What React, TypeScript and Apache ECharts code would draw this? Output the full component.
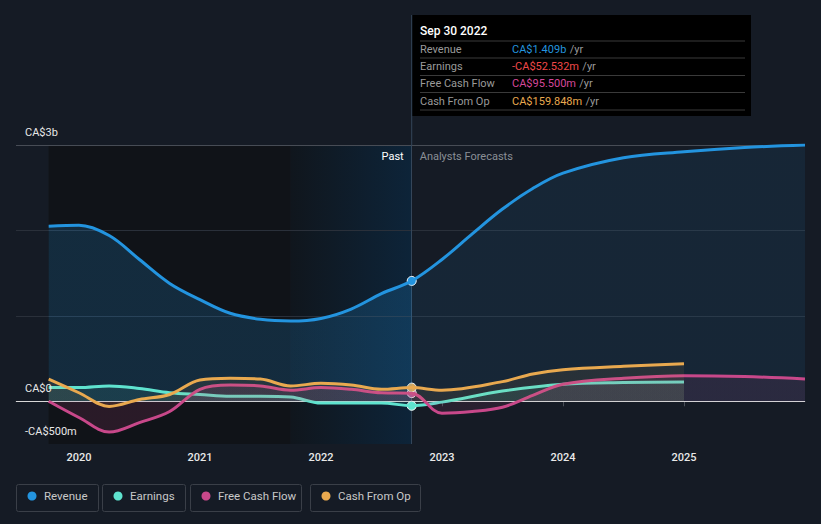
import React, { useEffect, useRef } from "react";
import * as echarts from "echarts";

const pastYears = [2019.75, 2020.0, 2020.25, 2020.5, 2020.75, 2021.0, 2021.25, 2021.5, 2021.75, 2022.0, 2022.25, 2022.5, 2022.75];

const revenuePast = [2.05, 2.06, 1.94, 1.66, 1.38, 1.19, 1.03, 0.96, 0.94, 0.97, 1.08, 1.26, 1.409];
const revenueFcYears = [2023.0, 2023.25, 2023.5, 2023.75, 2024.0, 2024.5, 2025.0, 2025.5, 2026.0];
const revenueFc = [1.66, 1.96, 2.25, 2.49, 2.67, 2.85, 2.92, 2.97, 3.0];

const earningsPast = [0.16, 0.16, 0.18, 0.15, 0.1, 0.08, 0.06, 0.06, 0.05, -0.02, -0.02, -0.02, -0.0525];
const earningsFcYears = [2023.0, 2023.5, 2024.0, 2024.5, 2025.0];
const earningsFc = [-0.01, 0.12, 0.2, 0.22, 0.225];

const fcfPast = [0.0, -0.19, -0.36, -0.25, -0.12, 0.14, 0.19, 0.18, 0.13, 0.16, 0.14, 0.1, 0.0955];
const fcfFcYears = [2023.0, 2023.25, 2023.5, 2023.75, 2024.0, 2024.5, 2025.0, 2025.5, 2026.0];
const fcfFc = [-0.14, -0.12, -0.07, 0.07, 0.2, 0.27, 0.3, 0.29, 0.26];

const cfoPast = [0.26, 0.1, -0.06, 0.02, 0.08, 0.25, 0.27, 0.26, 0.18, 0.21, 0.19, 0.14, 0.16];
const cfoFcYears = [2023.0, 2023.5, 2023.75, 2024.0, 2024.5, 2025.0];
const cfoFc = [0.13, 0.23, 0.32, 0.37, 0.41, 0.44];

const xTicks = [2020, 2021, 2022, 2023, 2024, 2025];
const yTickValues = [-0.5, 0, 3];
const yTickLabels = ["-CA$500m", "CA$0", "CA$3b"];
const gridValues = [1, 2, 3];

const xMin = 2019.48;
const xMax = 2026.0;
const pastStart = 2019.75;
const highlightStart = 2021.75;
const pastEnd = 2022.75;

const legendNames = ["Revenue", "Earnings", "Free Cash Flow", "Cash From Op"];
const colors = ["#2394df", "#5fe3cf", "#c8488a", "#e9a94f"];

const tooltipDate = "Sep 30 2022";
const tooltipValues = ["CA$1.409b", "-CA$52.532m", "CA$95.500m", "CA$159.848m"];
const tooltipColors = ["#2394df", "#f04848", "#d6479a", "#e9a94f"];

const FONT = "Roboto, 'Noto Sans', sans-serif";

function join(py: number[], pv: number[], fy: number[], fv: number[]) {
  const out: number[][] = [];
  py.forEach((y, i) => out.push([y, pv[i]]));
  fy.forEach((y, i) => out.push([y, fv[i]]));
  return out;
}

function splitGradient(rgb: string, aPast: number, aFc: number, frac: number) {
  return new echarts.graphic.LinearGradient(0, 0, 1, 0, [
    { offset: 0, color: `rgba(${rgb},${aPast})` },
    { offset: frac, color: `rgba(${rgb},${aPast})` },
    { offset: Math.min(1, frac + 0.0005), color: `rgba(${rgb},${aFc})` },
    { offset: 1, color: `rgba(${rgb},${aFc})` },
  ]);
}

export default function App() {
  const ref = useRef<HTMLDivElement>(null);
  useEffect(() => {
    document.body.style.margin = "0";
    document.body.style.background = "#151b25";
    const chart = echarts.init(ref.current!, null, { renderer: "svg" });
    const dataSets = [
      join(pastYears, revenuePast, revenueFcYears, revenueFc),
      join(pastYears, earningsPast, earningsFcYears, earningsFc),
      join(pastYears, fcfPast, fcfFcYears, fcfFc),
      join(pastYears, cfoPast, cfoFcYears, cfoFc),
    ];
    const pastVals = [revenuePast, earningsPast, fcfPast, cfoPast];
    const rgbs = ["35,148,223", "95,227,207", "200,72,138", "233,169,79"];
    const alphas = [
      [0.27, 0.13],
      [0.14, 0.14],
      [0.2, 0.16],
      [0.12, 0.12],
    ];
    const lineSeries: any[] = dataSets.map((d, i) => {
      const lastX = d[d.length - 1][0];
      const frac = (pastEnd - pastStart) / (lastX - pastStart);
      return {
        type: "line",
        name: legendNames[i],
        data: d,
        smooth: 0.35,
        symbol: "none",
        z: 5 + i,
        lineStyle: { color: colors[i], width: 3 },
        itemStyle: { color: colors[i] },
        areaStyle: { color: splitGradient(rgbs[i], alphas[i][0], alphas[i][1], frac), origin: 0 },
        markPoint: {
          symbol: "circle",
          symbolSize: 9,
          silent: true,
          label: { show: false },
          itemStyle: { color: colors[i], borderColor: "#ffffff", borderWidth: 1 },
          data: [{ coord: [pastEnd, pastVals[i][pastVals[i].length - 1]] }],
        },
      };
    });

    const bgSeries = {
      type: "line",
      data: [],
      z: 1,
      silent: true,
      markArea: {
        silent: true,
        data: [
          [{ xAxis: pastStart, itemStyle: { color: "#101318" } }, { xAxis: highlightStart }],
          [
            {
              xAxis: highlightStart,
              itemStyle: {
                color: new echarts.graphic.LinearGradient(0, 0, 1, 0, [
                  { offset: 0, color: "#10161d" },
                  { offset: 1, color: "#0d2439" },
                ]),
              },
            },
            { xAxis: pastEnd },
          ],
        ],
      },
      markLine: {
        silent: true,
        symbol: "none",
        label: { show: false },
        data: [
          ...gridValues.map((v) => ({
            yAxis: v,
            lineStyle: { color: v === 3 ? "#474c55" : "#2a303a", width: 1, type: "solid" },
          })),
          { yAxis: 0, lineStyle: { color: "#d8d8d8", width: 1, type: "solid" } },
          { xAxis: pastEnd, lineStyle: { color: "#34465a", width: 1, type: "solid" } },
        ],
      },
    };

    const baseOption: any = {
      animation: false,
      backgroundColor: "#151b25",
      textStyle: { fontFamily: FONT },
      grid: { left: 16, right: 16, top: 145, bottom: 80, containLabel: false },
      xAxis: {
        type: "value",
        min: xMin,
        max: xMax,
        axisLine: { show: true, lineStyle: { color: "#4a4f58" } },
        axisTick: { show: true, customValues: xTicks, length: 5, lineStyle: { color: "#4a4f58" } },
        axisLabel: {
          customValues: xTicks,
          color: "#e8e8e8",
          fontSize: 11,
          fontWeight: 500,
          margin: 8,
          formatter: (v: number) => String(Math.round(v)),
        },
        splitLine: { show: false },
      },
      yAxis: {
        type: "value",
        min: -0.5,
        max: 3,
        axisLine: { show: false },
        axisTick: { show: false },
        splitLine: { show: false },
        axisLabel: { show: false },
      },
      series: [bgSeries, ...lineSeries],
    };
    chart.setOption(baseOption);

    const yLabelGraphics = yTickValues.map((v, i) => {
      const py = chart.convertToPixel({ yAxisIndex: 0 }, v) as number;
      return {
        type: "text",
        z: 100,
        x: 25,
        y: py - 13,
        style: { text: yTickLabels[i], fill: "#e8e8e8", font: `11px ${FONT}`, verticalAlign: "middle" },
      };
    });
    const xPast = chart.convertToPixel({ xAxisIndex: 0 }, pastEnd) as number;
    const yTop = chart.convertToPixel({ yAxisIndex: 0 }, 3) as number;

    const legendGraphics: any[] = [];
    const boxes = [
      [16, 82],
      [102, 83],
      [190, 111],
      [310, 110],
    ];
    boxes.forEach(([bx, bw], i) => {
      legendGraphics.push({
        type: "rect",
        shape: { x: bx + 0.5, y: 484.5, width: bw, height: 27, r: 2 },
        style: { fill: "transparent", stroke: "#3a3f48", lineWidth: 1 },
      });
      legendGraphics.push({
        type: "circle",
        shape: { cx: bx + 16, cy: 496, r: 4.5 },
        style: { fill: colors[i] },
      });
      legendGraphics.push({
        type: "text",
        x: bx + 28,
        y: 496,
        style: { text: legendNames[i], fill: "#c8c8c8", font: `11.5px ${FONT}`, verticalAlign: "middle" },
      });
    });

    const rowY = [49, 66, 83, 101];
    const sepY = [41, 58, 75.5, 92.5, 110];
    const tipLabels = ["Revenue", "Earnings", "Free Cash Flow", "Cash From Op"];
    const tipX = Math.round(xPast);
    const tooltipChildren: any[] = [
      { type: "rect", shape: { x: tipX, y: 15, width: 339, height: 101 }, style: { fill: "#000000" } },
      {
        type: "text",
        x: tipX + 8,
        y: 31,
        style: { text: tooltipDate, fill: "#ffffff", font: `500 12px ${FONT}`, verticalAlign: "middle" },
      },
    ];
    sepY.forEach((y) =>
      tooltipChildren.push({
        type: "line",
        shape: { x1: tipX + 8, y1: y, x2: tipX + 333, y2: y },
        style: { stroke: "#3a3a3a", lineWidth: 1 },
      })
    );
    rowY.forEach((y, i) => {
      tooltipChildren.push({
        type: "text",
        x: tipX + 8,
        y,
        style: { text: tipLabels[i], fill: "#9a9a9a", font: `11px ${FONT}`, verticalAlign: "middle" },
      });
      tooltipChildren.push({
        type: "text",
        x: tipX + 100,
        y,
        style: {
          text: `{v|${tooltipValues[i]}} {u|/yr}`,
          verticalAlign: "middle",
          rich: {
            v: { fill: tooltipColors[i], font: `11px ${FONT}` },
            u: { fill: "#9a9a9a", font: `11px ${FONT}` },
          },
        },
      });
    });

    chart.setOption({
      graphic: [
        ...yLabelGraphics,
        {
          type: "text",
          z: 100,
          x: xPast - 8,
          y: yTop + 11,
          style: { text: "Past", fill: "#ffffff", font: `11px ${FONT}`, align: "right", verticalAlign: "middle" },
        },
        {
          type: "text",
          z: 100,
          x: xPast + 8,
          y: yTop + 11,
          style: { text: "Analysts Forecasts", fill: "#8a8f96", font: `11px ${FONT}`, verticalAlign: "middle" },
        },
        {
          type: "line",
          z: 100,
          shape: { x1: xPast, y1: 15, x2: xPast, y2: yTop },
          style: { stroke: "#34465a", lineWidth: 1 },
        },
        { type: "group", z: 100, children: tooltipChildren },
        ...legendGraphics,
      ],
    });
    return () => chart.dispose();
  }, []);
  return <div ref={ref} style={{ width: 821, height: 524 }} />;
}
